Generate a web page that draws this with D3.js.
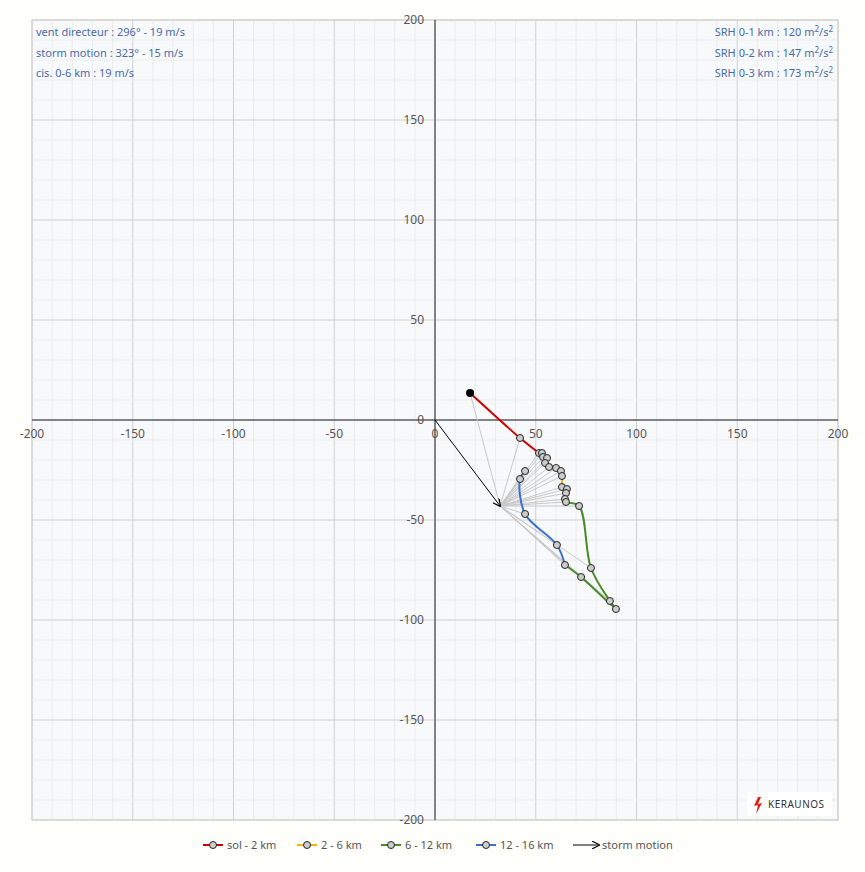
<!DOCTYPE html><html><head><meta charset="utf-8"><script src="https://cdn.jsdelivr.net/npm/d3@7"></script>
<style>body{margin:0;background:#fefefa;font-family:"Noto Sans",sans-serif}</style></head><body><svg id="c" width="865" height="872"></svg>
<script>
const pts=[[17.4,13.5],[42.2,-9],[51.6,-16.5],[53.1,-16.5],[53.6,-18.5],[55.6,-19],[54.6,-21.5],[56.6,-23.5],[60.1,-24],[62.5,-25.5],[63,-28],[63,-33.5],[65.5,-34.5],[65,-36.5],[64.5,-39.5],[65,-41],[71.5,-43],[77.4,-74],[86.8,-90.5],[89.8,-94.5],[72.5,-78.5],[64.5,-72.5],[60.5,-62.5],[44.7,-47],[42.2,-29.5],[44.7,-25.5]];
const segNames=["sol - 2 km","2 - 6 km","6 - 12 km","12 - 16 km"];
const segColors=["#cc0000","#f5b800","#4a8a2a","#3a6fd0"];
const segRanges=[[0,2],[2,11],[11,21],[21,25]];
const storm=[32.3,-43];
const ticks=[-200,-150,-100,-50,0,50,100,150,200];
const infoLeft=["vent directeur : 296°  -  19 m/s","storm motion : 323°  -  15 m/s","cis. 0-6 km : 19 m/s"];
const infoRight=["SRH 0-1 km : 120","SRH 0-2 km : 147","SRH 0-3 km : 173"];
const svg=d3.select("#c");
const x=d3.scaleLinear().domain([-200,200]).range([32,838]);
const y=d3.scaleLinear().domain([-200,200]).range([820,20]);
svg.append("rect").attr("x",32).attr("y",20).attr("width",806).attr("height",800).attr("fill","#f8f9fb").attr("stroke","#ccc");
const minor=d3.range(-200,201,10);
svg.selectAll(".vx").data(minor).join("line").attr("x1",d=>x(d)).attr("x2",d=>x(d)).attr("y1",20).attr("y2",820).attr("stroke",d=>d%50?"#ebebeb":"#cfcfcf");
svg.selectAll(".hy").data(minor).join("line").attr("y1",d=>y(d)).attr("y2",d=>y(d)).attr("x1",32).attr("x2",838).attr("stroke",d=>d%50?"#ebebeb":"#cfcfcf");
svg.append("line").attr("x1",32).attr("x2",838).attr("y1",y(0)).attr("y2",y(0)).attr("stroke","#222");
svg.append("line").attr("y1",20).attr("y2",820).attr("x1",x(0)).attr("x2",x(0)).attr("stroke","#222");
svg.selectAll(".tx").data(ticks).join("text").attr("x",d=>x(d)).attr("y",y(0)+18).attr("text-anchor","middle").attr("font-size",12).attr("fill","#555").text(d=>d);
svg.selectAll(".ty").data(ticks).join("text").attr("x",x(0)-11).attr("y",d=>y(d)+4).attr("text-anchor","end").attr("font-size",12).attr("fill","#555").text(d=>d);
// gray lines
svg.selectAll(".g").data(pts.slice(0)).join("line").attr("x1",x(storm[0])).attr("y1",y(storm[1])).attr("x2",d=>x(d[0])).attr("y2",d=>y(d[1])).attr("stroke","#c8c8c8").attr("stroke-width",1);
const defs=svg.append("defs");
defs.append("marker").attr("id","ar").attr("viewBox","0 0 10 10").attr("refX",9).attr("refY",5).attr("markerWidth",8).attr("markerHeight",8).attr("orient","auto").append("path").attr("d","M0,0L10,5L0,10").attr("fill","none").attr("stroke","#000").attr("stroke-width",1.5);
svg.append("line").attr("x1",x(0)).attr("y1",y(0)).attr("x2",x(storm[0])).attr("y2",y(storm[1])).attr("stroke","#000").attr("marker-end","url(#ar)");
const line=d3.line().x(d=>x(d[0])).y(d=>y(d[1])).curve(d3.curveMonotoneY);
const lineS=d3.line().x(d=>x(d[0])).y(d=>y(d[1])).curve(d3.curveCatmullRom);
segRanges.forEach((r,i)=>svg.append("path").attr("d",lineS(pts.slice(r[0],r[1]+1))).attr("fill","none").attr("stroke",segColors[i]).attr("stroke-width",2));
svg.selectAll(".p").data(pts.slice(1)).join("circle").attr("cx",d=>x(d[0])).attr("cy",d=>y(d[1])).attr("r",3.5).attr("fill","#ccc").attr("stroke","#222").attr("stroke-width",1);
svg.append("circle").attr("cx",x(pts[0][0])).attr("cy",y(pts[0][1])).attr("r",4).attr("fill","#000");
infoLeft.forEach((t,i)=>svg.append("text").attr("x",36).attr("y",36+i*20.5).attr("font-size",11).attr("fill","#4a6aa8").text(t));
infoRight.forEach((t,i)=>{const tx=svg.append("text").attr("x",833).attr("y",36+i*20.5).attr("font-size",11).attr("fill","#4a6aa8").attr("text-anchor","end");tx.append("tspan").text(t+" m");tx.append("tspan").attr("font-size",8).attr("dy",-4).text("2");tx.append("tspan").attr("dy",4).text("/s");tx.append("tspan").attr("font-size",8).attr("dy",-4).text("2");});
// logo
svg.append("rect").attr("x",747).attr("y",792).attr("width",85).attr("height",24).attr("fill","#fff");
svg.append("path").attr("d","M758,797 L754,806 L758,805 L756,814 L762,803 L758,804 L761,797Z").attr("fill","#d21");
svg.append("text").attr("x",768).attr("y",808).attr("font-size",10).attr("fill","#333").attr("letter-spacing",0.5).text("KERAUNOS");
// legend
const leg=[...segNames.map((n,i)=>({n,c:segColors[i],x:[203,297,381,476][i]})),{n:"storm motion",c:"#000",x:573,arrow:true}];
leg.forEach(l=>{const g=svg.append("g");
 if(l.arrow){g.append("line").attr("x1",l.x).attr("x2",l.x+26).attr("y1",845).attr("y2",845).attr("stroke","#000").attr("marker-end","url(#ar)");}
 else{g.append("line").attr("x1",l.x).attr("x2",l.x+20).attr("y1",845).attr("y2",845).attr("stroke",l.c).attr("stroke-width",2);
 g.append("circle").attr("cx",l.x+10).attr("cy",845).attr("r",3.5).attr("fill","#ccc").attr("stroke","#222");}
 g.append("text").attr("x",l.x+(l.arrow?29:24)).attr("y",849).attr("font-size",11).attr("fill","#555").text(l.n);});
</script></body></html>
